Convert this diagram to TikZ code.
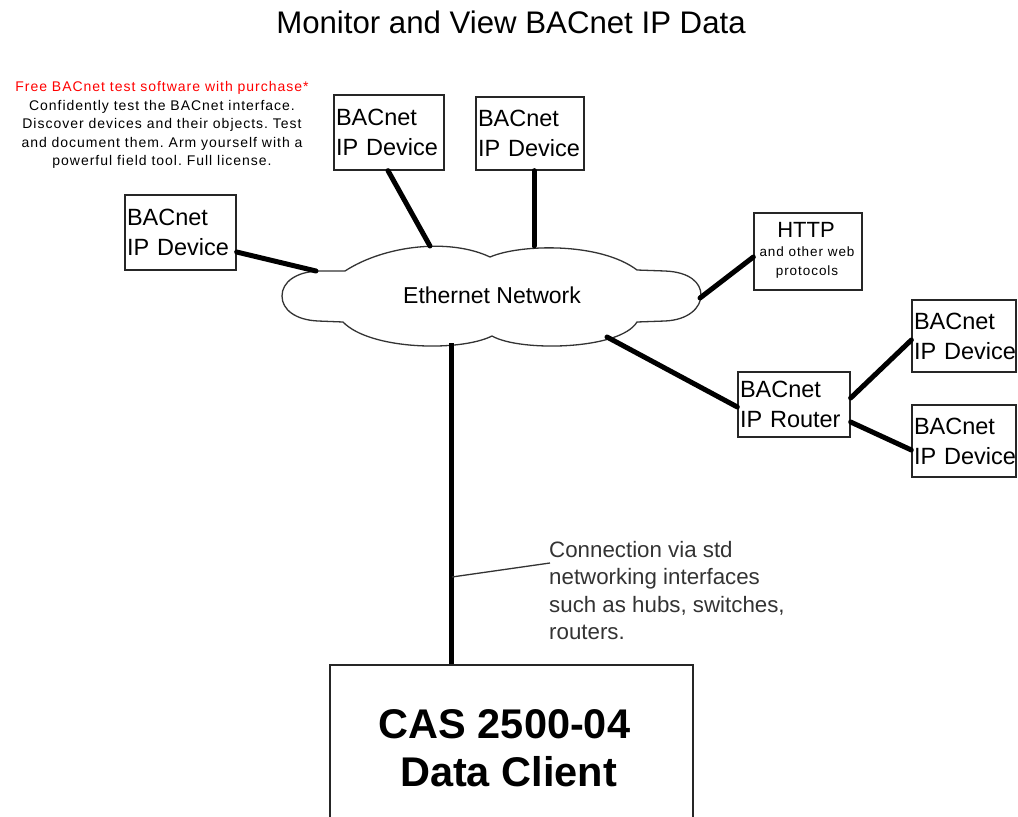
\documentclass[tikz,border=0pt]{standalone}
\usepackage{fontspec}
\setmainfont{Liberation Sans}
\newfontfamily\spacedfont[LetterSpace=7]{Liberation Sans}
\usetikzlibrary{calc}
\frenchspacing
\begin{document}
\begin{tikzpicture}[x=1pt,y=-1pt,
  box/.style={draw=black!85, line width=1.3pt, inner sep=0pt},
  devbox/.style={box, align=left, inner xsep=2pt, font=\fontsize{23.5}{30}\selectfont},
  wire/.style={line width=5pt, line cap=round},
  cloudline/.style={draw=black!80, line width=1.3pt, fill=white}
]
\useasboundingbox (0,0) rectangle (1018,817);

% title
\node[font=\fontsize{31.2}{31.2}\selectfont] (title) at (511,22) {Monitor and View BACnet IP Data};

% promo text
\node[align=center, font=\spacedfont\fontsize{14}{18.5}\selectfont, inner sep=0pt] (promo) at (162,125)
  {\textcolor{red}{Free BACnet test software with purchase*}\\
   Confidently test the BACnet interface.\\
   Discover devices and their objects. Test\\
   and document them. Arm yourself with a\\
   powerful field tool. Full license.};

% cloud
\draw[cloudline] (345,271) .. controls (385,245) and (450,238) .. (490,257)
  .. controls (520,244) and (600,242) .. (637,270)
  -- (665,271) .. controls (690,272) and (701,283) .. (701,295)
  .. controls (701,308) and (688,320) .. (665,321) -- (637,322)
  .. controls (620,350) and (520,352) .. (492,336)
  .. controls (460,352) and (370,350) .. (343,322)
  -- (318,321) .. controls (296,320) and (282,310) .. (282,296)
  .. controls (282,282) and (296,272) .. (318,271) -- cycle;
\node[font=\fontsize{23}{23}\selectfont] (eth) at (492,295) {Ethernet Network};
\coordinate (cA) at (316,271);
\coordinate (cB) at (430,246);
\coordinate (cC) at (534,246);
\coordinate (cD) at (700,298);
\coordinate (cE) at (607,337);
\coordinate (cF) at (451,343);

% devices
\node[devbox, text width=107pt, minimum height=75pt] (d1) at (180.5,232.5) {BACnet\\\mbox{IP Device}};
\node[devbox, text width=106pt, minimum height=75pt] (d2) at (389,132.5) {BACnet\\\mbox{IP Device}};
\node[devbox, text width=104pt, minimum height=73pt] (d3) at (530,133.5) {BACnet\\\mbox{IP Device}};
\node[devbox, text width=100pt, minimum height=72pt] (r1) at (964,336) {BACnet\\\mbox{IP Device}};
\node[devbox, text width=100pt, minimum height=72pt] (r2) at (964,441) {BACnet\\\mbox{IP Device}};
\node[devbox, text width=108pt, minimum height=65pt] (router) at (794,404.5) {BACnet\\\mbox{IP Router}};

% HTTP box
\node[box, minimum width=108pt, minimum height=77pt] (http) at (808,251.5) {};
\node[font=\fontsize{22}{22}\selectfont, inner sep=0pt] (httpt) at (806,230) {HTTP};
\node[font=\spacedfont\fontsize{13.5}{19}\selectfont, align=center, inner sep=0pt] (https) at (807,263) {and other web\\protocols};

% CAS box
\node[box, minimum width=363pt, minimum height=166pt, align=center,
      font=\bfseries\fontsize{41.5}{48}\selectfont] (cas) at (511.5,748)
  {\hspace*{-14pt}CAS 2500-04\\Data Client\hspace*{6pt}};

% note
\node[anchor=north west, align=left, font=\fontsize{22.3}{27.5}\selectfont, text=black!80, inner sep=0pt]
  (note) at (549,541) {Connection via std\\networking interfaces\\such as hubs, switches,\\routers.};
\coordinate (tap) at (452,577);

% connectors
\draw[wire] ([yshift=-19.5pt]d1.east) -- (cA);
\draw[wire] ([xshift=-1pt]d2.south) -- (cB);
\draw[wire] ([xshift=4pt]d3.south) -- (cC);
\draw[wire] (cD) -- ([yshift=-5.5pt]http.west);
\draw[wire] (cE) -- ([yshift=-2.5pt]router.west);
\draw[wire] ([yshift=6.5pt]router.east) -- ([yshift=-4pt]r1.west);
\draw[wire] ([yshift=-17.5pt]router.east) -- ([yshift=-9pt]r2.west);
\draw[wire, line cap=butt] (cF) -- (cF |- cas.north);
\draw[line width=1.3pt, draw=black!80] (tap) -- ([xshift=1pt,yshift=-22pt]note.north west);
\end{tikzpicture}
\end{document}
